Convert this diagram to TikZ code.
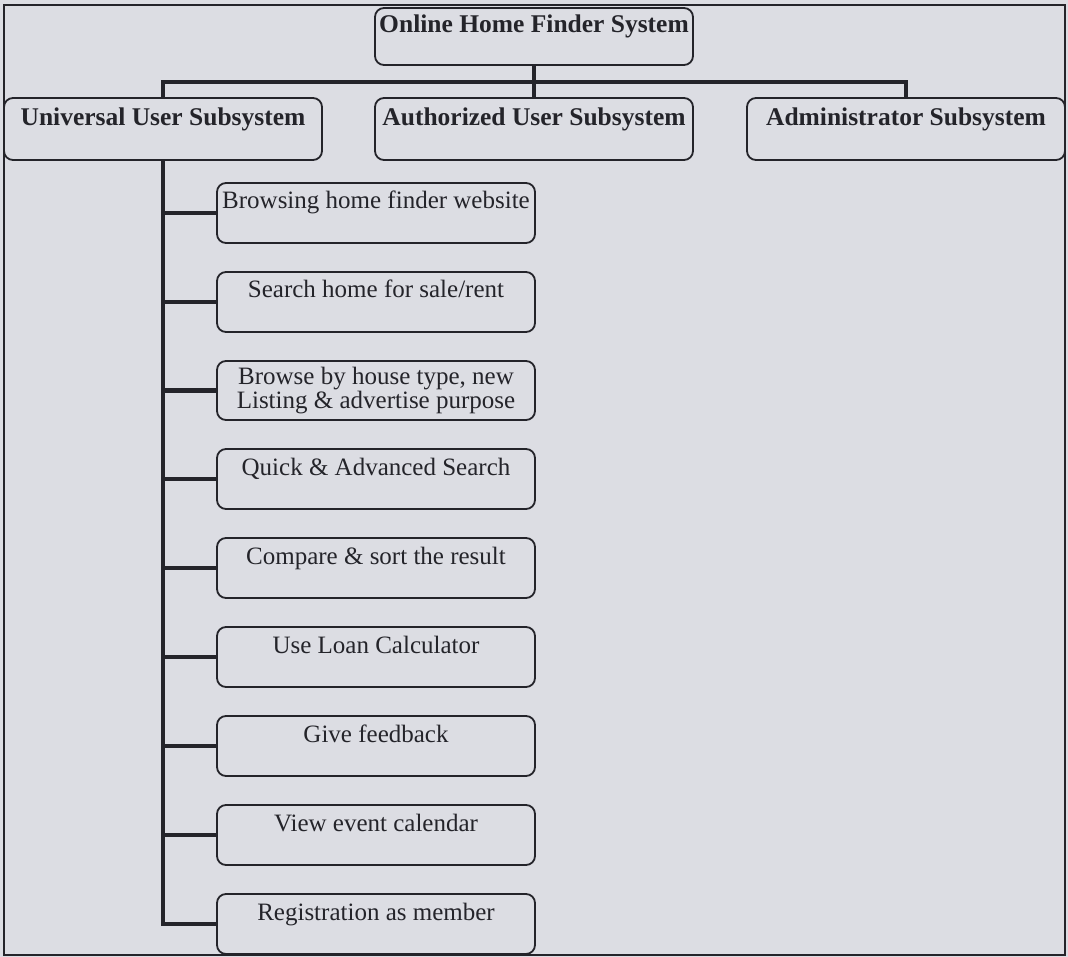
\documentclass[tikz,border=0pt]{standalone}
\usepackage{fontspec}
\setmainfont{Liberation Serif}
\usetikzlibrary{positioning}
\definecolor{paper}{RGB}{220,221,227}
\definecolor{ink}{RGB}{36,36,42}

\begin{document}
\begin{tikzpicture}[x=1pt, y=-1pt,
    box/.style={draw=ink, line width=1.8pt, rounded corners=9pt, fill=paper, text=ink, inner xsep=0pt, inner ysep=0pt, outer sep=0pt, minimum width=318pt, align=center, font=\fontsize{25}{22}\selectfont},
    head/.style={box, font=\fontsize{25.5}{22}\selectfont\bfseries, text height=28pt, text depth=34pt},
    item/.style={box, text height=26pt, text depth=34pt},
    link/.style={draw=ink, line width=4pt},
    node distance=29pt
]
\useasboundingbox (0,0) rectangle (1068,957);
\fill[paper] (0,0) rectangle (1068,957);
\draw[ink, line width=1.8pt] (4,5) rectangle (1065,955);

% system and subsystems
\node[head, text height=25pt, text depth=32pt, anchor=north west] (home) at (375,8) {Online Home Finder System};
\node[head, anchor=north west] (univ) at (4,98) {Universal User Subsystem};
\node[head, anchor=north west] (auth) at (375,98) {Authorized User Subsystem};
\node[head, anchor=north west] (admin) at (747,98) {Administrator Subsystem};

% universal user functions
\node[item, anchor=north west] (browse) at (217,183) {Browsing home finder website};
\node[item, below=of browse] (search) {Search home for sale/rent};
\node[item, below=of search, text height={}, text depth={}, minimum height=59pt] (type) {Browse by house type, new\\Listing \& advertise purpose};
\node[item, below=of type] (quick) {Quick \& Advanced Search};
\node[item, below=of quick] (compare) {Compare \& sort the result};
\node[item, below=of compare] (loan) {Use Loan Calculator};
\node[item, below=of loan] (feedback) {Give feedback};
\node[item, below=of feedback] (calendar) {View event calendar};
\node[item, below=of calendar] (register) {Registration as member};

\coordinate (bar) at (0,82);
\draw[link] (home.south) -- (auth.north);
\draw[link] (univ.north) -- (univ.north |- bar) -- (admin.north |- bar) -- (admin.north);

\draw[link] (univ.south) |- (register.west);
\foreach \n in {browse,search,type,quick,compare,loan,feedback,calendar}
    \draw[link] (univ.south |- \n.west) -- (\n.west);
\end{tikzpicture}
\end{document}
